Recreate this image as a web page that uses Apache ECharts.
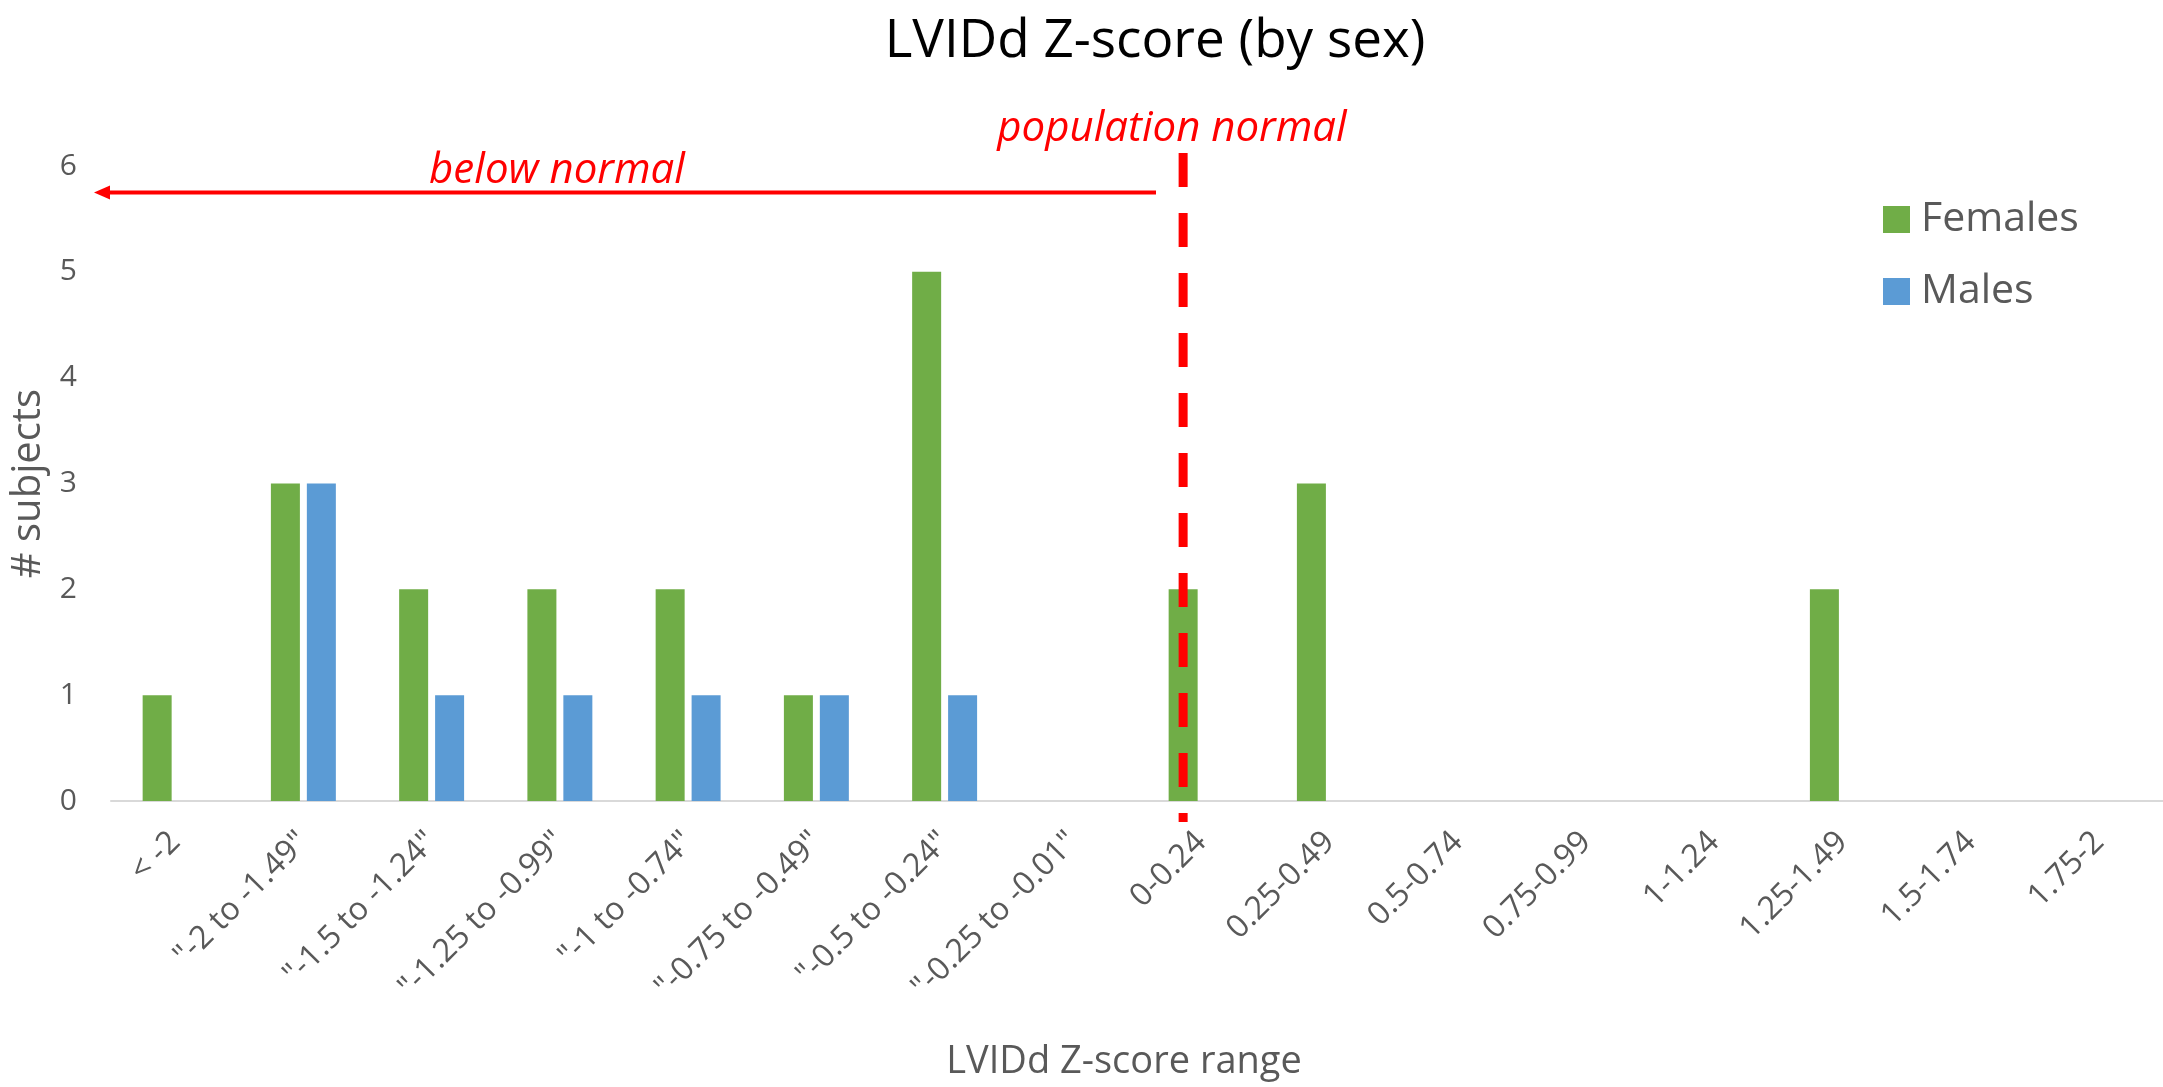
<!DOCTYPE html>
<html>
<head>
<meta charset="utf-8">
<script src="https://cdn.jsdelivr.net/npm/echarts@6/dist/echarts.min.js"></script>
<style>
  html, body { margin: 0; padding: 0; background: #fff; }
  #chart { width: 2163px; height: 1087px; }
</style>
</head>
<body>
<div id="chart"></div>
<script>
// z-score bins on the x axis
const categories = [
  "< -2", "\"-2 to -1.49\"", "\"-1.5 to -1.24\"", "\"-1.25 to -0.99\"",
  "\"-1 to -0.74\"", "\"-0.75 to -0.49\"", "\"-0.5 to -0.24\"", "\"-0.25 to -0.01\"",
  "0-0.24", "0.25-0.49", "0.5-0.74", "0.75-0.99",
  "1-1.24", "1.25-1.49", "1.5-1.74", "1.75-2"
]
const females = [1, 3, 2, 2, 2, 1, 5, 0, 2, 3, 0, 0, 0, 2, 0, 0]
const males = [0, 3, 1, 1, 1, 1, 1, 0, 0, 0, 0, 0, 0, 0, 0, 0]
const normalBin = "0-0.24"

const FONT = "Open Sans"
const GRAY = "#595959"
const BAR_W = 29
const BAR_GAP = 7

const chart = echarts.init(document.getElementById("chart"))

const option = {
  animation: false,
  textStyle: { fontFamily: FONT },
  title: {
    text: "LVIDd Z-score (by sex)",
    left: 1150,
    top: 10,
    textAlign: "center",
    textStyle: { fontFamily: FONT, fontSize: 53, fontWeight: "normal", color: "#000" }
  },
  legend: {
    orient: "vertical",
    left: 1878,
    top: 192,
    itemWidth: 27,
    itemHeight: 27,
    itemGap: 27,
    icon: "rect",
    textStyle: { fontFamily: FONT, fontSize: 41, color: GRAY, lineHeight: 45, padding: [0, 0, 0, 6] },
    data: ["Females", "Males"]
  },
  grid: { left: 111, right: 0, top: 166, bottom: 286 },
  xAxis: {
    type: "category",
    data: categories,
    name: "LVIDd Z-score range",
    nameLocation: "middle",
    nameGap: 242,
    nameTextStyle: { fontFamily: FONT, fontSize: 38, color: GRAY, padding: [0, 26, 0, 0] },
    axisLine: { lineStyle: { color: "#d9d9d9", width: 2 } },
    axisTick: { show: false },
    axisLabel: {
      interval: 0,
      rotate: 45,
      margin: 36,
      fontFamily: FONT,
      fontSize: 32,
      color: GRAY
    }
  },
  yAxis: {
    type: "value",
    min: 0,
    max: 6,
    interval: 1,
    name: "# subjects",
    nameLocation: "middle",
    nameGap: 44,
    nameTextStyle: { fontFamily: FONT, fontSize: 40, color: GRAY },
    splitLine: { show: false },
    axisLine: { show: false },
    axisTick: { show: false },
    axisLabel: { fontFamily: FONT, fontSize: 30, color: GRAY, margin: 34 }
  },
  series: [
    {
      name: "Females",
      type: "bar",
      data: females,
      barWidth: BAR_W,
      barGap: (BAR_GAP / BAR_W * 100).toFixed(0) + "%",
      itemStyle: { color: "#70ad47" }
    },
    {
      name: "Males",
      type: "bar",
      data: males,
      barWidth: BAR_W,
      itemStyle: { color: "#5b9bd5" }
    }
  ]
}
chart.setOption(option)

// annotations: dashed "population normal" line through the female bar of the 0-0.24 bin,
// and the "below normal" arrow pointing left
const lineX = chart.convertToPixel({ xAxisIndex: 0 }, normalBin) - (BAR_W + BAR_GAP) / 2
const arrowY = chart.convertToPixel({ yAxisIndex: 0 }, 5.75)
chart.setOption({
  graphic: [
    {
      type: "line",
      z: 100,
      shape: { x1: lineX, y1: 153, x2: lineX, y2: 822 },
      style: { stroke: "#ff0000", lineWidth: 9, lineDash: [34, 26] }
    },
    {
      type: "line",
      z: 100,
      shape: { x1: 1156, y1: arrowY, x2: 106, y2: arrowY },
      style: { stroke: "#ff0000", lineWidth: 4 }
    },
    {
      type: "polygon",
      z: 100,
      shape: { points: [[94, arrowY], [110, arrowY - 7], [110, arrowY + 7]] },
      style: { fill: "#ff0000" }
    },
    {
      type: "text",
      z: 100,
      x: 1172,
      y: 129,
      style: {
        text: "population normal",
        fill: "#ff0000",
        font: "italic 42px 'Open Sans'",
        align: "center",
        verticalAlign: "middle"
      }
    },
    {
      type: "text",
      z: 100,
      x: 557,
      y: 171,
      style: {
        text: "below normal",
        fill: "#ff0000",
        font: "italic 42px 'Open Sans'",
        align: "center",
        verticalAlign: "middle"
      }
    }
  ]
})

window.addEventListener("resize", () => {
  chart.resize()
})
</script>
</body>
</html>
